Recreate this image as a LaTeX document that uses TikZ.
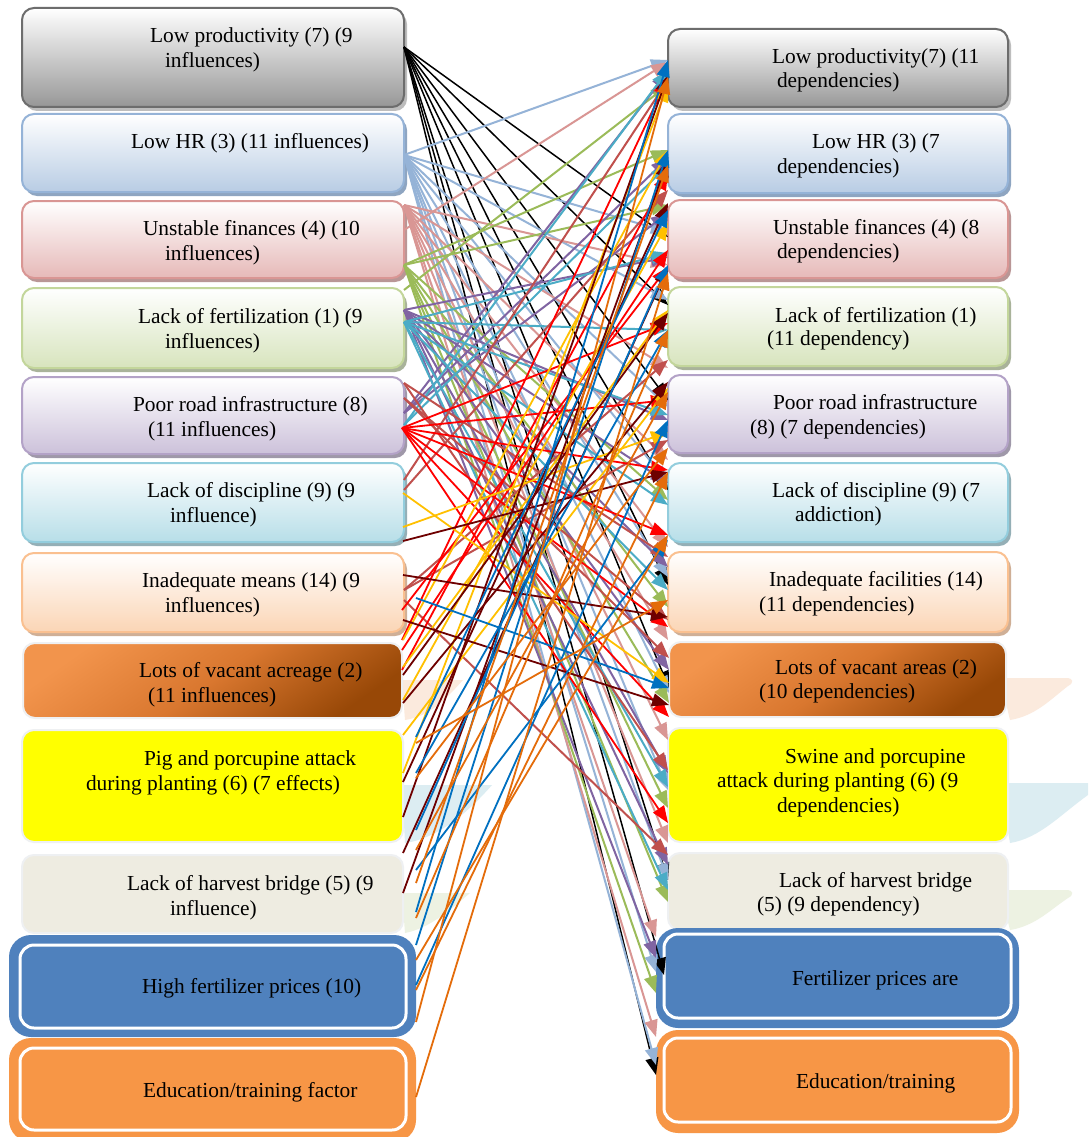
\documentclass[tikz,border=0pt]{standalone}
\usepackage{fontspec}
\setmainfont{Liberation Serif}
\usetikzlibrary{arrows.meta,shadows}
\definecolor{cLB}{HTML}{95B3D7}
\definecolor{cPK}{HTML}{D99694}
\definecolor{cGR}{HTML}{9BBB59}
\definecolor{cPU}{HTML}{8064A2}
\definecolor{cTE}{HTML}{4BACC6}
\definecolor{cBR}{HTML}{C0504D}
\definecolor{cRD}{HTML}{FF0000}
\definecolor{cYE}{HTML}{FFC000}
\definecolor{cMA}{HTML}{6E0000}
\definecolor{cBL}{HTML}{0070C0}
\definecolor{cOR}{HTML}{E46C0A}
\definecolor{dblue}{HTML}{4F81BD}
\definecolor{dorange}{HTML}{F79646}
\definecolor{bgray}{HTML}{6D6D6D}
\definecolor{fgray}{HTML}{979797}
\definecolor{sgray}{HTML}{BDBDBD}
\definecolor{fblue}{HTML}{B8CCE4}
\definecolor{sblue}{HTML}{8EA5C1}
\definecolor{fpink}{HTML}{E6B9B8}
\definecolor{spink}{HTML}{B99696}
\definecolor{bgreen}{HTML}{C3D69B}
\definecolor{fgreen}{HTML}{D7E4BD}
\definecolor{sgreen}{HTML}{A9B39A}
\definecolor{bpurp}{HTML}{B3A2C7}
\definecolor{fpurp}{HTML}{CCC1DA}
\definecolor{spurp}{HTML}{9F98A9}
\definecolor{bcyan}{HTML}{93CDDD}
\definecolor{fcyan}{HTML}{B7DEE8}
\definecolor{scyan}{HTML}{94AFB6}
\definecolor{bpeach}{HTML}{FAC090}
\definecolor{fpeach}{HTML}{FBD5B5}
\definecolor{speach}{HTML}{CFAF96}
\definecolor{vtop}{HTML}{F2944C}
\definecolor{vmid}{HTML}{D9772F}
\definecolor{vbot}{HTML}{984807}
\definecolor{beige}{HTML}{EEECE1}
\definecolor{lborder}{HTML}{EEF0F2}
\definecolor{pureyellow}{RGB}{255,255,0}
\definecolor{rpeach}{HTML}{FBEADD}
\definecolor{rblue}{HTML}{DCEDF2}
\definecolor{rgreen}{HTML}{EDF2E2}
\newcommand\lk[5]{\draw[#1] (#2.east |- 0,#3) -- (#4.west |- 0,#5);}
\begin{document}
\begin{tikzpicture}[x=1pt,y=-1pt,
  bx/.style={rectangle, rounded corners=12pt, line width=2pt, inner sep=0pt, outer sep=0pt, anchor=north west},
  shd/.style={drop shadow={shadow xshift=3pt, shadow yshift=-4pt, fill=#1, opacity=1}},
  gradbox/.style n args={3}{bx, draw=#1, top color=white, bottom color=#2, shd=#3},
  flatbox/.style={bx, draw=lborder, fill=#1},
  vacbox/.style={bx, draw=lborder, top color=vtop, bottom color=vbot, middle color=vmid, shading angle=35},
  dbouter/.style={bx, rounded corners=22pt, draw=none, fill=#1},
  dbinner/.style={bx, rounded corners=14pt, draw=white, line width=3pt, fill=#1},
  txt/.style={anchor=base west, inner sep=0pt, outer sep=0pt, font=\fontsize{21.4pt}{25pt}\selectfont},
  tipA/.style={-{Triangle[length=17pt,width=13pt]}},
  kBK/.style={tipA, draw=black, line width=1.5pt},
  kLB/.style={tipA, draw=cLB, line width=2pt},
  kPK/.style={tipA, draw=cPK, line width=2pt},
  kGR/.style={tipA, draw=cGR, line width=2pt},
  kPU/.style={tipA, draw=cPU, line width=2pt},
  kTE/.style={tipA, draw=cTE, line width=2pt},
  kBR/.style={tipA, draw=cBR, line width=2pt},
  kRD/.style={tipA, draw=cRD, line width=1.8pt},
  kYE/.style={tipA, draw=cYE, line width=1.8pt},
  kMA/.style={tipA, draw=cMA, line width=1.8pt},
  kBL/.style={tipA, draw=cBL, line width=1.8pt},
  kOR/.style={tipA, draw=cOR, line width=1.8pt},
  refl/.style={fill=#1}
]
\useasboundingbox (0,0) rectangle (1088,1137);
\fill[white] (0,0) rectangle (1088,1137);

% reflections
\fill[refl=rpeach] (402,680) -- (463,680) .. controls (445,700) and (430,716) .. (405,720) -- cycle;
\fill[refl=rblue] (402,785) -- (492,785) .. controls (470,810) and (440,838) .. (405,843) -- cycle;
\fill[refl=rgreen] (402,893) -- (470,893) .. controls (450,910) and (430,928) .. (405,933) -- cycle;
\fill[refl=rpeach] (1000,678) -- (1066,678) .. controls (1074,678) and (1074,683) .. (1068,686) .. controls (1050,700) and (1035,716) .. (1010,720) -- cycle;
\fill[refl=rblue] (1000,783) -- (1088,783) -- (1088,795) .. controls (1060,815) and (1040,838) .. (1010,843) -- cycle;
\fill[refl=rgreen] (1000,890) -- (1066,890) .. controls (1074,890) and (1074,895) .. (1068,898) .. controls (1050,910) and (1035,926) .. (1010,930) -- cycle;

% left boxes
\node[gradbox={bgray}{fgray}{sgray}, minimum width=382pt, minimum height=99pt] (L1) at (22,8) {};
\node[gradbox={cLB}{fblue}{sblue}, minimum width=382pt, minimum height=78pt] (L2) at (22,114) {};
\node[gradbox={cPK}{fpink}{spink}, minimum width=382pt, minimum height=77pt] (L3) at (22,201) {};
\node[gradbox={bgreen}{fgreen}{sgreen}, minimum width=382pt, minimum height=80pt] (L4) at (22,288) {};
\node[gradbox={bpurp}{fpurp}{spurp}, minimum width=382pt, minimum height=77pt] (L5) at (22,377) {};
\node[gradbox={bcyan}{fcyan}{scyan}, minimum width=382pt, minimum height=79pt] (L6) at (22,463) {};
\node[gradbox={bpeach}{fpeach}{speach}, minimum width=382pt, minimum height=79pt] (L7) at (22,553) {};
\node[vacbox, minimum width=379pt, minimum height=75pt] (L8) at (23,643) {};
\node[flatbox=pureyellow, minimum width=381pt, minimum height=112pt] (L9) at (22,730) {};
\node[flatbox=beige, minimum width=381pt, minimum height=78pt] (L10) at (22,855) {};
\node[dbouter=dblue, minimum width=407pt, minimum height=102pt] (L11) at (9,935) {};
\node[dbinner=dblue, minimum width=386pt, minimum height=83pt] (L11i) at (20,945) {};
\node[dbouter=dorange, minimum width=407pt, minimum height=104pt] (L12) at (9,1038) {};
\node[dbinner=dorange, minimum width=386pt, minimum height=82pt] (L12i) at (20,1048) {};

% right boxes
\node[gradbox={bgray}{fgray}{sgray}, minimum width=340pt, minimum height=78pt] (R1) at (668,29) {};
\node[gradbox={cLB}{fblue}{sblue}, minimum width=340pt, minimum height=79pt] (R2) at (668,114) {};
\node[gradbox={cPK}{fpink}{spink}, minimum width=340pt, minimum height=78pt] (R3) at (668,200) {};
\node[gradbox={bgreen}{fgreen}{sgreen}, minimum width=340pt, minimum height=79pt] (R4) at (668,287) {};
\node[gradbox={bpurp}{fpurp}{spurp}, minimum width=340pt, minimum height=78pt] (R5) at (668,375) {};
\node[gradbox={bcyan}{fcyan}{scyan}, minimum width=340pt, minimum height=79pt] (R6) at (668,463) {};
\node[gradbox={bpeach}{fpeach}{speach}, minimum width=340pt, minimum height=80pt] (R7) at (668,552) {};
\node[vacbox, minimum width=337pt, minimum height=75pt] (R8) at (669,642) {};
\node[flatbox=pureyellow, minimum width=340pt, minimum height=114pt] (R9) at (668,728) {};
\node[flatbox=beige, minimum width=340pt, minimum height=77pt] (R10) at (668,853) {};
\node[dbouter=dblue, minimum width=363pt, minimum height=100pt] (R11) at (656,928) {};
\node[dbinner=dblue, minimum width=347pt, minimum height=84pt] (R11i) at (664,934) {};
\node[dbouter=dorange, minimum width=363pt, minimum height=103pt] (R12) at (656,1030) {};
\node[dbinner=dorange, minimum width=347pt, minimum height=84pt] (R12i) at (664,1038) {};

% left texts
\node[txt] (L1a) at (150,43) {Low productivity (7) (9};
\node[txt] (L1b) at (165,68) {influences)};
\node[txt] (L2a) at (131,148) {Low HR (3) (11 influences)};
\node[txt] (L3a) at (143,235) {Unstable finances (4) (10};
\node[txt] (L3b) at (165,260) {influences)};
\node[txt] (L4a) at (138,323) {Lack of fertilization (1) (9};
\node[txt] (L4b) at (165,348) {influences)};
\node[txt] (L5a) at (133,411) {Poor road infrastructure (8)};
\node[txt] (L5b) at (148,436) {(11 influences)};
\node[txt] (L6a) at (147,497) {Lack of discipline (9) (9};
\node[txt] (L6b) at (170,522) {influence)};
\node[txt] (L7a) at (142,587) {Inadequate means (14) (9};
\node[txt] (L7b) at (165,612) {influences)};
\node[txt] (L8a) at (139,677) {Lots of vacant acreage (2)};
\node[txt] (L8b) at (148,702) {(11 influences)};
\node[txt] (L9a) at (144,765) {Pig and porcupine attack};
\node[txt] (L9b) at (86,790) {during planting (6) (7 effects)};
\node[txt] (L10a) at (127,890) {Lack of harvest bridge (5) (9};
\node[txt] (L10b) at (170,915) {influence)};
\node[txt] (L11a) at (142,993) {High fertilizer prices (10)};
\node[txt] (L12a) at (143,1097) {Education/training factor};

% right texts
\node[txt] (R1a) at (772,64) {Low productivity(7) (11};
\node[txt] (R1b) at (777,88) {dependencies)};
\node[txt] (R2a) at (812,148) {Low HR (3) (7};
\node[txt] (R2b) at (777,173) {dependencies)};
\node[txt] (R3a) at (773,234) {Unstable finances (4) (8};
\node[txt] (R3b) at (777,258) {dependencies)};
\node[txt] (R4a) at (775,322) {Lack of fertilization (1)};
\node[txt] (R4b) at (767,345) {(11 dependency)};
\node[txt] (R5a) at (773,409) {Poor road infrastructure};
\node[txt] (R5b) at (750,434) {(8) (7 dependencies)};
\node[txt] (R6a) at (772,497) {Lack of discipline (9) (7};
\node[txt] (R6b) at (795,521) {addiction)};
\node[txt] (R7a) at (769,586) {Inadequate facilities (14)};
\node[txt] (R7b) at (759,611) {(11 dependencies)};
\node[txt] (R8a) at (775,674) {Lots of vacant areas (2)};
\node[txt] (R8b) at (759,698) {(10 dependencies)};
\node[txt] (R9a) at (785,763) {Swine and porcupine};
\node[txt] (R9b) at (717,787) {attack during planting (6) (9};
\node[txt] (R9c) at (777,812) {dependencies)};
\node[txt] (R10a) at (779,887) {Lack of harvest bridge};
\node[txt] (R10b) at (757,911) {(5) (9 dependency)};
\node[txt] (R11a) at (792,985) {Fertilizer prices are};
\node[txt] (R12a) at (796,1088) {Education/training};

% connectors: Low productivity (black)
\lk{kBK}{L1}{47}{R3}{237}
\lk{kBK}{L1}{47}{R4}{305}
\lk{kBK}{L1}{47}{R5}{400}
\lk{kBK}{L1}{47}{R6}{490}
\lk{kBK}{L1}{47}{R7}{585}
\lk{kBK}{L1}{47}{R8}{688}
\lk{kBK}{L1}{47}{R10}{880}
\lk{kBK}{L1}{47}{R11i}{975}
\lk{kBK}{L1}{47}{R12}{1075}
% Low HR (light blue)
\lk{kLB}{L2}{155}{R1}{60}
\lk{kLB}{L2}{155}{R3}{232}
\lk{kLB}{L2}{155}{R4}{300}
\lk{kLB}{L2}{155}{R5}{407}
\lk{kLB}{L2}{155}{R6}{483}
\lk{kLB}{L2}{155}{R7}{577}
\lk{kLB}{L2}{155}{R8}{693}
\lk{kLB}{L2}{155}{R9}{790}
\lk{kLB}{L2}{155}{R10}{880}
\lk{kLB}{L2}{155}{R11}{972}
\lk{kLB}{L2}{155}{R12}{1065}
% Unstable finances (pink)
\lk{kPK}{L3}{230}{R1}{62}
\lk{kPK}{L3}{205}{R3}{265}
\lk{kPK}{L3}{205}{R4}{368}
\lk{kPK}{L3}{205}{R5}{460}
\lk{kPK}{L3}{205}{R6}{547}
\lk{kPK}{L3}{205}{R7}{640}
\lk{kPK}{L3}{205}{R9}{740}
\lk{kPK}{L3}{205}{R9}{843}
\lk{kPK}{L3}{205}{R11}{937}
\lk{kPK}{L3}{205}{R12}{1037}
% Lack of fertilization (green)
\lk{kGR}{L4}{290}{R1}{85}
\lk{kGR}{L4}{265}{R2}{150}
\lk{kGR}{L4}{265}{R3}{205}
\lk{kGR}{L4}{265}{R6}{500}
\lk{kGR}{L4}{265}{R7}{607}
\lk{kGR}{L4}{265}{R8}{703}
\lk{kGR}{L4}{265}{R9}{808}
\lk{kGR}{L4}{265}{R10}{902}
\lk{kGR}{L4}{265}{R11}{993}
% Poor road infrastructure (purple)
\lk{kPU}{L5}{413}{R1}{72}
\lk{kPU}{L5}{413}{R2}{158}
\lk{kPU}{L5}{413}{R3}{213}
\lk{kPU}{L5}{310}{R3}{257}
\lk{kPU}{L5}{310}{R5}{420}
\lk{kPU}{L5}{310}{R6}{483}
\lk{kPU}{L5}{310}{R7}{567}
\lk{kPU}{L5}{310}{R8}{670}
\lk{kPU}{L5}{310}{R9}{773}
\lk{kPU}{L5}{310}{R10}{865}
\lk{kPU}{L5}{310}{R11}{958}
% Lack of discipline (teal)
\lk{kTE}{L6}{425}{R1}{70}
\lk{kTE}{L6}{425}{R2}{165}
\lk{kTE}{L6}{322}{R3}{253}
\lk{kTE}{L6}{322}{R4}{330}
\lk{kTE}{L6}{322}{R5}{415}
\lk{kTE}{L6}{322}{R6}{505}
\lk{kTE}{L6}{322}{R7}{590}
\lk{kTE}{L6}{322}{R9}{787}
\lk{kTE}{L6}{322}{R10}{890}
% Inadequate means (brown red)
\lk{kBR}{L7}{383}{R7}{557}
\lk{kBR}{L7}{398}{R8}{658}
\lk{kBR}{L7}{480}{R1}{80}
\lk{kBR}{L7}{490}{R2}{190}
\lk{kBR}{L7}{590}{R5}{440}
\lk{kBR}{L7}{600}{R10}{855}
\lk{kBR}{L7}{383}{R9}{770}
\lk{kBR}{L7}{398}{R7}{620}
\lk{kBR}{L7}{590}{R4}{360}
% Lots of vacant acreage (red)
\lk{kRD}{L8}{428}{R4}{323}
\lk{kRD}{L8}{428}{R5}{400}
\lk{kRD}{L8}{428}{R6}{470}
\lk{kRD}{L8}{428}{R6}{535}
\lk{kRD}{L8}{428}{R7}{627}
\lk{kRD}{L8}{428}{R8}{717}
\lk{kRD}{L8}{428}{R9}{823}
\lk{kRD}{L8}{640}{R1}{78}
\lk{kRD}{L8}{670}{R2}{173}
\lk{kRD}{L8}{610}{R3}{267}
\lk{kRD}{L8}{650}{R3}{250}
% Pig and porcupine (yellow)
\lk{kYE}{L9}{493}{R8}{683}
\lk{kYE}{L9}{527}{R5}{432}
\lk{kYE}{L9}{667}{R4}{310}
\lk{kYE}{L9}{700}{R3}{223}
\lk{kYE}{L9}{735}{R5}{388}
\lk{kYE}{L9}{773}{R1}{85}
\lk{kYE}{L9}{640}{R2}{150}
% Lack of harvest bridge (maroon)
\lk{kMA}{L10}{541}{R6}{472}
\lk{kMA}{L10}{575}{R7}{617}
\lk{kMA}{L10}{620}{R8}{705}
\lk{kMA}{L10}{675}{R4}{313}
\lk{kMA}{L10}{703}{R5}{382}
\lk{kMA}{L10}{782}{R3}{203}
\lk{kMA}{L10}{817}{R1}{75}
\lk{kMA}{L10}{853}{R3}{267}
\lk{kMA}{L10}{893}{R2}{160}
% High fertilizer prices (blue)
\lk{kBL}{L11}{598}{R8}{688}
\lk{kBL}{L11}{737}{R3}{210}
\lk{kBL}{L11}{773}{R4}{330}
\lk{kBL}{L11}{912}{R1}{60}
\lk{kBL}{L11}{945}{R2}{150}
\lk{kBL}{L11}{985}{R5}{420}
\lk{kBL}{L11}{870}{R6}{540}
\lk{kBL}{L11}{830}{R3}{265}
% Education/training (orange)
\lk{kOR}{L12}{743}{R7}{600}
\lk{kOR}{L12}{778}{R5}{448}
\lk{kOR}{L12}{883}{R2}{165}
\lk{kOR}{L12}{918}{R4}{330}
\lk{kOR}{L12}{1022}{R1}{77}
\lk{kOR}{L12}{1097}{R3}{273}
\lk{kOR}{L12}{850}{R5}{392}
\lk{kOR}{L12}{960}{R6}{535}
\lk{kOR}{L12}{990}{R6}{472}
\end{tikzpicture}
\end{document}
